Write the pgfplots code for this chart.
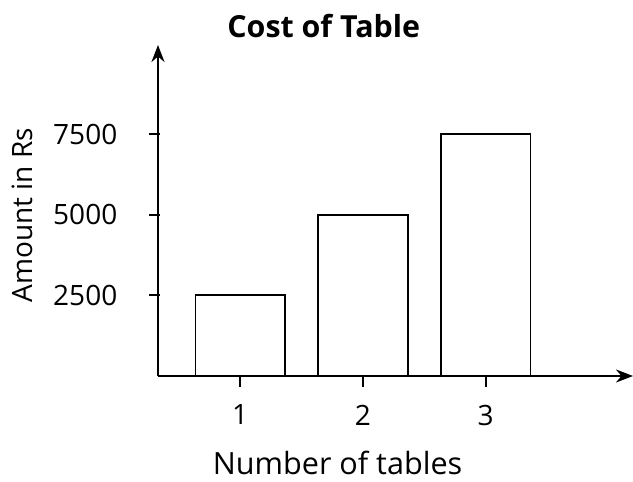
\documentclass[border=0pt]{standalone}
\usepackage{fontspec}
\setmainfont{Open Sans}
\usepackage{pgfplots}
\pgfplotsset{compat=1.18}
\usetikzlibrary{arrows.meta}
\begin{document}
\fontsize{14pt}{17pt}\selectfont
\begin{tikzpicture}
\useasboundingbox (-79pt,-53pt) rectangle (237.5pt,188pt);
\begin{axis}[
  at={(0,0)}, anchor=south west,
  scale only axis,
  width=237.5pt, height=165.5pt,
  axis lines=left,
  enlargelimits=false,
  xmin=0.33, xmax=4.2,
  ymin=0, ymax=10260,
  xtick={1,2,3},
  ytick={2500,5000,7500},
  tick align=outside,
  major tick length=5.5pt,
  tick style={line width=1pt, black},
  y tick style={xshift=1.2pt},
  axis line style={line width=1.3pt, -{Stealth[length=8.5pt,width=6.5pt]}},
  /pgf/number format/assume math mode=true,
  /pgf/number format/set thousands separator={},
  scaled y ticks=false,
  yticklabel style={xshift=-10pt},
  xticklabel style={yshift=-4pt},
  ticklabel style={font=\fontsize{14pt}{17pt}\selectfont},
  title={\textbf{Cost of Table}},
  every axis title shift=0pt,
  title style={at={(axis description cs:0.349,1.058)}, anchor=center, font=\fontsize{15.2pt}{18pt}\selectfont},
  xlabel={Number of tables},
  ylabel={Amount in Rs},
  x label style={at={(axis description cs:0.378,-0.263)}, anchor=center, inner sep=0pt, font=\fontsize{15.3pt}{18pt}\selectfont},
  y label style={at={(axis description cs:-0.2855,0.486)}, anchor=center, inner sep=0pt, font=\fontsize{14pt}{17pt}\selectfont},
  clip=false,
]
\addplot[ybar, bar width=0.73, fill=white, draw=black, line width=0.85pt]
  coordinates {(1,2500) (2,5000) (3,7500)};
\end{axis}
\end{tikzpicture}
\end{document}
